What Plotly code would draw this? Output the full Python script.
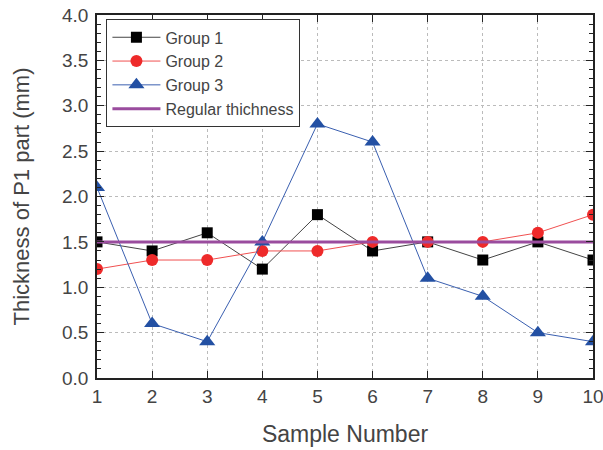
import plotly.graph_objects as go

samples = [1, 2, 3, 4, 5, 6, 7, 8, 9, 10]
group1 = [1.5, 1.4, 1.6, 1.2, 1.8, 1.4, 1.5, 1.3, 1.5, 1.3]
group2 = [1.2, 1.3, 1.3, 1.4, 1.4, 1.5, 1.5, 1.5, 1.6, 1.8]
group3 = [2.1, 0.6, 0.4, 1.5, 2.8, 2.6, 1.1, 0.9, 0.5, 0.4]
regular = [1.5] * 10

fig = go.Figure()
fig.add_trace(go.Scatter(x=samples, y=group1, name="Group 1", mode="lines+markers",
                         line=dict(color="#444444", width=1),
                         marker=dict(symbol="square", size=11, color="black")))
fig.add_trace(go.Scatter(x=samples, y=group2, name="Group 2", mode="lines+markers",
                         line=dict(color="#f05050", width=1),
                         marker=dict(symbol="circle", size=12, color="#ee2a2a")))
fig.add_trace(go.Scatter(x=samples, y=group3, name="Group 3", mode="lines+markers",
                         line=dict(color="#3a5fb0", width=1),
                         marker=dict(symbol="triangle-up", size=14, color="#2350a3")))
fig.add_trace(go.Scatter(x=samples, y=regular, name="Regular thichness", mode="lines",
                         line=dict(color="#9a4c9e", width=3)))

axis_common = dict(showline=True, linecolor="#222", linewidth=1.5, mirror="allticks",
                   ticks="inside", tickcolor="#222", ticklen=7, tickwidth=1.2,
                   showgrid=True, gridcolor="#bbbbbb", griddash="dot", gridwidth=1,
                   zeroline=False, automargin=False, ticklabeloverflow="allow",
                   tickfont=dict(size=19, color="#444"))

fig.update_layout(
    width=603, height=450,
    margin=dict(l=97, r=10, t=15, b=72),
    paper_bgcolor="white", plot_bgcolor="white",
    font=dict(family="Liberation Sans, Arial, sans-serif", color="#444"),
    hovermode=False,
    showlegend=True,
    legend=dict(x=0.019, y=0.988, xanchor="left", yanchor="top",
                bordercolor="#333", borderwidth=1, bgcolor="white",
                font=dict(size=16, color="#444"), tracegroupgap=0, itemwidth=48),
    xaxis=dict(range=[1, 10], dtick=1,
               title=dict(text="Sample Number", font=dict(size=23, color="#444"), standoff=20),
               **axis_common),
    yaxis=dict(range=[0, 4], dtick=0.5, tickformat=".1f", ticklabelstandoff=3,
               title=dict(text="Thickness of P1 part (mm)", font=dict(size=22, color="#444"), standoff=26),
               minor=dict(dtick=0.1, ticks="inside", ticklen=4, tickcolor="#222", showgrid=False),
               **axis_common),
)

# remove the page's default body margin so the figure fills the window exactly
fig.write_html("out.html", config={"displayModeBar": False},
               post_script="document.body.style.margin='0';")
